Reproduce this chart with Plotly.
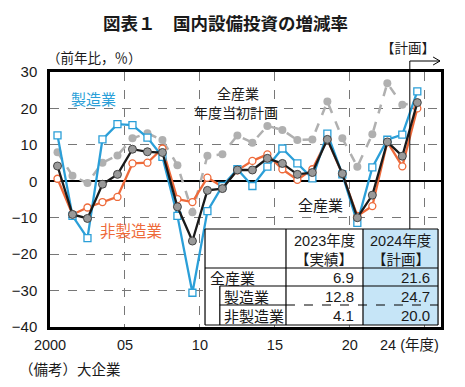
import plotly.graph_objects as go

# ---------------- data ----------------
years = list(range(2000, 2025))
manufacturing = [12.6, -9.5, -15.6, 11.5, 15.7, 15.4, 12.0, 6.7, -9.5, -30.6, -8.2, -1.3, 3.3,
                 -1.3, 4.0, 9.0, 4.9, 0.8, 13.1, 1.9, -11.4, 3.8, 11.4, 12.8, 24.7]
non_manufacturing = [0.7, -9.1, -7.2, -5.7, -4.3, 4.9, 5.1, 9.0, -4.9, -5.7, 1.0, -1.5, 3.0,
                     5.6, 7.4, 3.3, 0.4, 3.3, 11.5, 1.9, -9.5, -6.8, 10.8, 4.1, 20.0]
all_industries = [4.2, -9.1, -10.2, -0.8, 1.9, 8.8, 8.1, 7.9, -7.0, -16.4, -2.5, -2.0, 3.1,
                  3.1, 6.3, 4.9, 1.9, 2.4, 11.5, 2.1, -10.0, -3.8, 10.8, 6.9, 21.6]
initial_plan = [8.0, 1.5, -0.5, 5.1, 7.1, 11.8, 13.2, 11.3, 4.4, -8.5, 7.0, 7.4, 12.6,
                10.6, 15.2, 14.1, 11.3, 11.5, 21.9, 11.8, 4.0, 12.9, 26.9, 21.0, 21.6]

tick_positions = [1999.5, 2004.5, 2009.5, 2014.5, 2019.5, 2024.5]
tick_labels = ["2000", "05", "10", "15", "20", ""]
y_ticks = [30, 20, 10, 0, -10, -20, -30, -40]

table_rows = ["全産業", "製造業", "非製造業"]
table_2023 = ["6.9", "12.8", "4.1"]
table_2024 = ["21.6", "24.7", "20.0"]

# ---------------- geometry helpers ----------------
W, H = 465, 387
L, R, T, B = 45, 441, 72, 327
XR = [1999.5, 2025.58]


def px(x):
    return (x - L) / (R - L)


def py(y):
    return (B - y) / (B - T)


def yr2px(v):
    return L + (v - XR[0]) / (XR[1] - XR[0]) * (R - L)


JP = "Noto Sans CJK JP, Noto Sans, sans-serif"
NUM = "Liberation Sans, Arial, Noto Sans CJK JP, sans-serif"

BLUE = "#2b9fd8"
ORANGE = "#ee6a3a"
GRAY = "#b0b0b0"

fig = go.Figure()

fig.add_trace(go.Scatter(
    x=years, y=initial_plan, mode="lines+markers",
    line=dict(color=GRAY, width=2.5, dash="dash"),
    marker=dict(color=GRAY, size=8, line=dict(width=0)),
    showlegend=False))
fig.add_trace(go.Scatter(
    x=years, y=non_manufacturing, mode="lines+markers",
    line=dict(color=ORANGE, width=2.3),
    marker=dict(symbol="circle", color="white", size=7, line=dict(color=ORANGE, width=1.3)),
    showlegend=False))
fig.add_trace(go.Scatter(
    x=years, y=manufacturing, mode="lines+markers",
    line=dict(color=BLUE, width=2.3),
    marker=dict(symbol="square", color="white", size=7, line=dict(color=BLUE, width=1.3)),
    showlegend=False))
fig.add_trace(go.Scatter(
    x=years, y=all_industries, mode="lines+markers",
    line=dict(color="#1a1a1a", width=2.3),
    marker=dict(symbol="circle", color="#999999", size=8, line=dict(color="#444444", width=1)),
    showlegend=False))

shapes = []
annotations = []

# solid plan-divider line and arrow
xp = px(yr2px(2023.5))
shapes.append(dict(type="line", xref="paper", yref="paper", x0=xp, x1=xp,
                   y0=py(229), y1=py(61), line=dict(color="black", width=1), layer="above"))
shapes.append(dict(type="line", xref="paper", yref="paper", x0=xp, x1=px(440),
                   y0=py(61), y1=py(61), line=dict(color="black", width=1), layer="above"))
shapes.append(dict(type="line", xref="paper", yref="paper", x0=px(433), x1=px(440),
                   y0=py(57), y1=py(61), line=dict(color="black", width=1), layer="above"))
shapes.append(dict(type="line", xref="paper", yref="paper", x0=px(433), x1=px(440),
                   y0=py(65), y1=py(61), line=dict(color="black", width=1), layer="above"))

# ---------------- table ----------------
tL, tR, tT, tB = 202, 438, 229, 325
c1, c2 = 284, 362
r1, r2, r3 = 268, 286, 305
inner = 217
shapes.append(dict(type="rect", xref="paper", yref="paper", x0=px(tL), x1=px(tR), y0=py(tB), y1=py(tT),
                   fillcolor="white", line=dict(width=0), layer="above"))
shapes.append(dict(type="rect", xref="paper", yref="paper", x0=px(c2), x1=px(tR), y0=py(tB), y1=py(tT),
                   fillcolor="#c6e5f7", line=dict(width=0), layer="above"))
lw = 1.2


def hline(x0, x1, y, dash="solid"):
    shapes.append(dict(type="line", xref="paper", yref="paper", x0=px(x0), x1=px(x1), y0=py(y), y1=py(y),
                       line=dict(color="black", width=lw, dash=dash), layer="above"))


def vline(x, y0, y1):
    shapes.append(dict(type="line", xref="paper", yref="paper", x0=px(x), x1=px(x), y0=py(y0), y1=py(y1),
                       line=dict(color="black", width=lw), layer="above"))


hline(tL, tR, tT)
hline(tL, tR, tB)
vline(tL, tT, tB)
vline(tR, tT, tB)
vline(c1, tT, tB)
vline(c2, tT, tB)
hline(tL, tR, r1)
hline(inner, tR, r2)
vline(inner, r2, tB)
hline(inner, c1, r3)
hline(c1, tR, r3, dash="dash")


def ann(text, x, y, size, color="#1a1a1a", xanchor="center", family=JP, weight="normal"):
    annotations.append(dict(text=text, x=px(x), y=py(y), xref="paper", yref="paper",
                            xanchor=xanchor, yanchor="middle", showarrow=False,
                            font=dict(size=size, color=color, family=family, weight=weight)))


ann("2023年度", (c1 + c2) / 2, 241, 14.5, family=NUM)
ann("【実績】", (c1 + c2) / 2, 258, 14.5)
ann("2024年度", (c2 + tR) / 2, 241, 14.5, family=NUM)
ann("【計画】", (c2 + tR) / 2, 258, 14.5)
row_y = [277, 296, 315]
row_x = [205, 219, 219]
for name, v23, v24, yy, xx in zip(table_rows, table_2023, table_2024, row_y, row_x):
    ann(name, xx, yy, 15, xanchor="left")
    ann(v23, 355, yy, 15, xanchor="right", family=NUM)
    ann(v24, 432, yy, 15, xanchor="right", family=NUM)

# ---------------- labels ----------------
ann("図表１　国内設備投資の増減率", 97, 22, 17.5, xanchor="left", weight="bold")
ann("（前年比，％）", 90, 57, 13.5)
ann("【計画】", 408, 47, 13.5)
ann("製造業", 89, 98, 15, color=BLUE)
ann("全産業", 235, 93, 14)
ann("年度当初計画", 233, 112, 14)
ann("全産業", 319, 205, 15)
ann("非製造業", 127, 230, 15.5, color=ORANGE)
ann("24 (年度)", 377, 345, 14.5, xanchor="left", family=NUM)
ann("（備考）大企業", 12, 368, 14.5, xanchor="left")

fig.update_layout(
    width=W, height=H,
    margin=dict(l=L, r=W - R, t=T, b=H - B, pad=0),
    paper_bgcolor="white", plot_bgcolor="white",
    shapes=shapes, annotations=annotations,
    showlegend=False,
    xaxis=dict(range=XR, tickmode="array", tickvals=tick_positions, ticktext=tick_labels,
               showgrid=True, gridcolor="#777777", gridwidth=1, griddash="dash",
               zeroline=False, showline=True, mirror=True, linecolor="black", linewidth=2.5,
               ticks="", ticklabelstandoff=3,
               tickfont=dict(size=14.5, family=NUM, color="#1a1a1a")),
    yaxis=dict(range=[-40, 30], tickmode="array", tickvals=y_ticks,
               showgrid=True, gridcolor="#777777", gridwidth=1, griddash="dash",
               zeroline=True, zerolinecolor="black", zerolinewidth=1.5,
               showline=True, mirror=True, linecolor="black", linewidth=2.5,
               ticks="", ticklabelstandoff=7,
               tickfont=dict(size=15, family=NUM, color="#1a1a1a")),
)

fig.write_html("out.html", config={"displayModeBar": False},
               post_script="document.body.style.margin='0';")
